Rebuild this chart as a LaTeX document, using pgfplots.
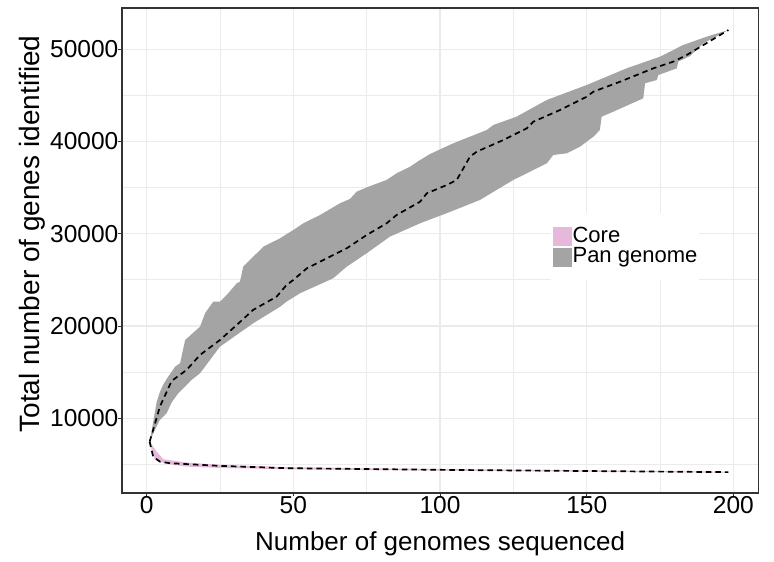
\documentclass[border=0pt]{standalone}
\usepackage{fontspec}
\setmainfont{Liberation Sans}
\usepackage{pgfplots}
\usepackage{pgfplotstable}
\pgfplotsset{compat=1.18}
\usepgfplotslibrary{fillbetween}
\definecolor{pangray}{HTML}{A4A4A4}
\definecolor{corepink}{HTML}{E6B8D9}
\definecolor{gridgray}{HTML}{EBEBEB}
\definecolor{bordergray}{HTML}{333333}

\pgfplotstableread{
X Y
1 7470
1.5 8200
2.2 9600
3.4 11770
4.5 12860
5.6 13620
6.8 14270
9.7 15600
11.4 15970
13.1 18490
18.2 19940
19.9 21390
22.7 22650
25.0 22650
27.3 23370
30.7 24640
31.8 24810
32.9 26440
35.2 27160
39.8 28610
45.5 29520
50.0 30420
53.4 31140
59.1 32040
65.9 33310
69.3 33780
71.6 34570
75.6 35110
81.8 35840
85.2 36560
89.8 37280
93.2 38000
96.6 38650
104.5 39810
115.9 41250
118.2 41800
126.1 42700
136.4 44510
150.0 46130
163.6 47940
175.0 49200
182.9 50470
190.9 51370
198.3 52090
}\panupper

\pgfplotstableread{
X Y
1 7470
2.8 8740
4.5 9820
6.8 10550
8.6 11770
10.8 12720
15.3 14160
18.2 14890
25.0 17770
36.3 20300
45.5 22100
47.7 22650
52.3 23560
63.6 25180
68.2 26440
75.0 27890
82.9 29690
93.2 31140
103.4 32370
113.6 33670
125.0 35840
136.4 37640
138.6 38540
143.2 38730
147.7 39440
152.3 40530
154.5 41250
155.1 42700
159.1 43240
169.3 44690
169.9 46320
173.9 46670
174.4 47210
180.7 47940
181.2 48660
185.2 49270
189.8 50650
198.3 52090
}\panlower

\pgfplotstableread{
X Y
1 7470
2.2 8740
4.5 11270
6.8 12860
8.5 14050
13.6 15240
18.2 16870
25.0 18490
30.7 20120
36.3 21750
44.3 23190
47.7 24460
50.0 25000
54.6 26260
59.1 26980
68.2 28430
75.0 29870
81.8 31140
85.2 32040
93.2 33480
95.5 34390
102.3 35290
105.7 35840
110.2 38360
112.5 38900
121.6 40170
129.6 41440
131.8 42150
140.9 43420
150.0 44860
152.3 45410
161.4 46490
172.7 47940
179.5 48660
184.1 49380
198.3 52090
}\panmedian

\pgfplotstableread{
X Y
1 7470
1.4 7300
3.4 6390
5.7 5560
13.6 5200
25.0 4950
47.7 4700
70.3 4590
198.3 4210
}\coreupper

\pgfplotstableread{
X Y
1 7470
1.7 6570
2.8 5490
6.8 5060
13.6 4760
25.0 4620
47.7 4480
70.4 4400
198.3 4100
}\corelower

\pgfplotstableread{
X Y
1 7470
2.2 5850
4.5 5300
7.9 5130
25.0 4840
47.7 4590
103.4 4400
198.3 4160
}\coremedian

\begin{document}
\begin{tikzpicture}
\begin{axis}[
  at={(0,0)}, anchor=south west,
  width=636.3pt, height=485pt, scale only axis,
  xmin=-8.42, xmax=208.5, ymin=1900, ymax=54480,
  xtick={0,50,100,150,200}, minor xtick={25,75,125,175},
  ytick={10000,20000,30000,40000,50000},
  minor ytick={5000,15000,25000,35000,45000},
  grid=both,
  major grid style={draw=gridgray, line width=1.3pt},
  minor grid style={draw=gridgray, line width=1.0pt},
  minor tick length=0pt,
  major tick length=3.5pt,
  tick align=outside,
  tick pos=left,
  major tick style={draw=bordergray, line width=0.9pt},
  axis line style={draw=bordergray, line width=1.1pt},
  scaled y ticks=false, scaled x ticks=false,
  /pgf/number format/assume math mode=true,
  /pgf/number format/set thousands separator={},
  ticklabel style={font=\fontsize{24.5}{24.5}\selectfont},
  xticklabel style={inner sep=0pt},
  yticklabel style={inner sep=0pt},
  xlabel={Number of genomes sequenced},
  ylabel={Total number of genes identified},
  xlabel style={font=\fontsize{26}{26}\selectfont, at={(axis description cs:0.5,-0.1041)}, anchor=center},
  ylabel style={font=\fontsize{28}{28}\selectfont, at={(axis description cs:-0.1407,0.534)}, anchor=center},
  legend style={at={(0.6742,0.5773)}, anchor=north west, draw=none, fill=white,
    inner xsep=2pt, inner ysep=13pt, row sep=0pt, column sep=1pt,
    font=\fontsize{22}{22}\selectfont,
    nodes={inner sep=0pt, text height=16pt, text depth=4.6pt}},
  legend cell align=left,
  legend image code/.code={\fill[#1] (0pt,-9.6pt) rectangle (18.4pt,9.6pt);},
]
\addlegendimage{fill=corepink, draw=none}
\addlegendentry{Core}
\addlegendimage{fill=pangray, draw=none}
\addlegendentry{Pan genome}

\addplot[draw=none, name path=pu, forget plot] table[x=X,y=Y] {\panupper};
\addplot[draw=none, name path=pl, forget plot] table[x=X,y=Y] {\panlower};
\addplot[fill=pangray, draw=none, forget plot] fill between[of=pu and pl];

\addplot[draw=none, name path=cu, forget plot] table[x=X,y=Y] {\coreupper};
\addplot[draw=none, name path=cl, forget plot] table[x=X,y=Y] {\corelower};
\addplot[fill=corepink, draw=none, forget plot] fill between[of=cu and cl];

\addplot[black, line width=1.7pt, dash pattern=on 5.5pt off 4pt, forget plot] table[x=X,y=Y] {\panmedian};
\addplot[black, line width=1.7pt, dash pattern=on 5.5pt off 4pt, forget plot] table[x=X,y=Y] {\coremedian};
\end{axis}
\pgfresetboundingbox
\useasboundingbox (-122pt,-69pt) rectangle (652pt,493pt);
\end{tikzpicture}
\end{document}
